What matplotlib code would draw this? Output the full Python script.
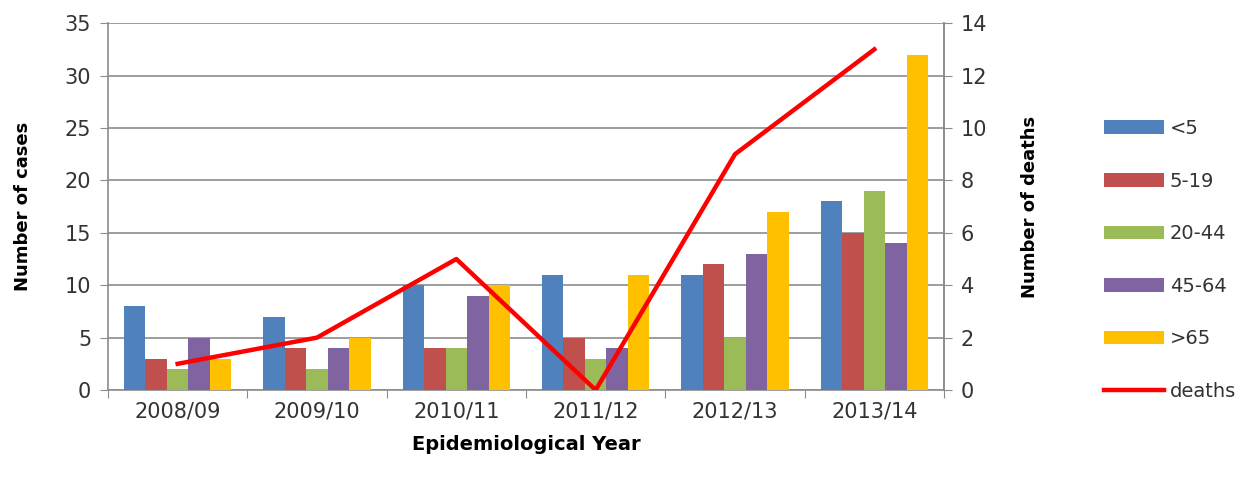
import numpy as np
import matplotlib
matplotlib.use("Agg")
import matplotlib.pyplot as plt

# cases per age group and deaths by season
years = ["2008/09", "2009/10", "2010/11", "2011/12", "2012/13", "2013/14"]
lt5 = [8, 7, 10, 11, 11, 18]
a5_19 = [3, 4, 4, 5, 12, 15]
a20_44 = [2, 2, 4, 3, 5, 19]
a45_64 = [5, 4, 9, 4, 13, 14]
gt65 = [3, 5, 10, 11, 17, 32]
deaths = [1, 2, 5, 0, 9, 13]

groups = [lt5, a5_19, a20_44, a45_64, gt65]
labels = ["<5", "5-19", "20-44", "45-64", ">65"]
colors = ["#4F81BD", "#C0504D", "#9BBB59", "#8064A2", "#FFC000"]

plt.rcParams["font.family"] = "DejaVu Sans"
grey = "#8C8C8C"

fig = plt.figure(figsize=(12.53, 4.83), dpi=100)
ax = fig.add_axes([0.0862, 0.1925, 0.6672, 0.7595])

x = np.arange(len(years))
w = 0.154
handles = []
for i, (vals, c, lab) in enumerate(zip(groups, colors, labels)):
    b = ax.bar(x + (i - 2) * w, vals, w, color=c, label=lab, zorder=3)
    handles.append(b)

ax.set_ylim(0, 35)
ax.set_xlim(-0.5, len(years) - 0.5)
ax.set_yticks(range(0, 36, 5))
ax.yaxis.grid(True, color=grey, lw=1.2, zorder=0)
ax.set_axisbelow(True)

# category boundaries get the ticks, names sit in between
ax.set_xticks(np.arange(-0.5, len(years), 1.0))
ax.set_xticklabels([])
ax.set_xticks(x, minor=True)
ax.set_xticklabels(years, minor=True)
ax.tick_params(axis="x", which="major", length=6, color=grey, direction="out")
ax.tick_params(axis="x", which="minor", length=0, pad=8, labelsize=15, labelcolor="#333333")
ax.tick_params(axis="y", length=6, color=grey, labelsize=15, labelcolor="#333333", pad=6)

ax.spines["top"].set_visible(False)
for s in ["left", "bottom", "right"]:
    ax.spines[s].set_color(grey)
    ax.spines[s].set_linewidth(1.2)

ax.set_ylabel("Number of cases", fontsize=13, fontweight="bold", labelpad=24)
ax.set_xlabel("Epidemiological Year", fontsize=14, fontweight="bold", labelpad=10)

ax2 = ax.twinx()
ax2.set_ylim(0, 14)
ax2.set_yticks(range(0, 15, 2))
line, = ax2.plot(x, deaths, color="#FF0000", lw=3.2, label="deaths", zorder=5)
ax2.tick_params(axis="y", length=6, color=grey, labelsize=15, labelcolor="#333333", pad=6)
for s in ["top", "left", "bottom"]:
    ax2.spines[s].set_visible(False)
ax2.spines["right"].set_color(grey)
ax2.spines["right"].set_linewidth(1.2)
ax2.set_ylabel("Number of deaths", fontsize=13, fontweight="bold", labelpad=24)

fig.legend(handles + [line], labels + ["deaths"], loc="upper left",
           bbox_to_anchor=(0.867, 0.79), frameon=False, fontsize=14,
           handlelength=3.1, handleheight=0.7, handletextpad=0.3,
           labelspacing=1.73, labelcolor="#333333")

fig.savefig("out.png", dpi=100)
